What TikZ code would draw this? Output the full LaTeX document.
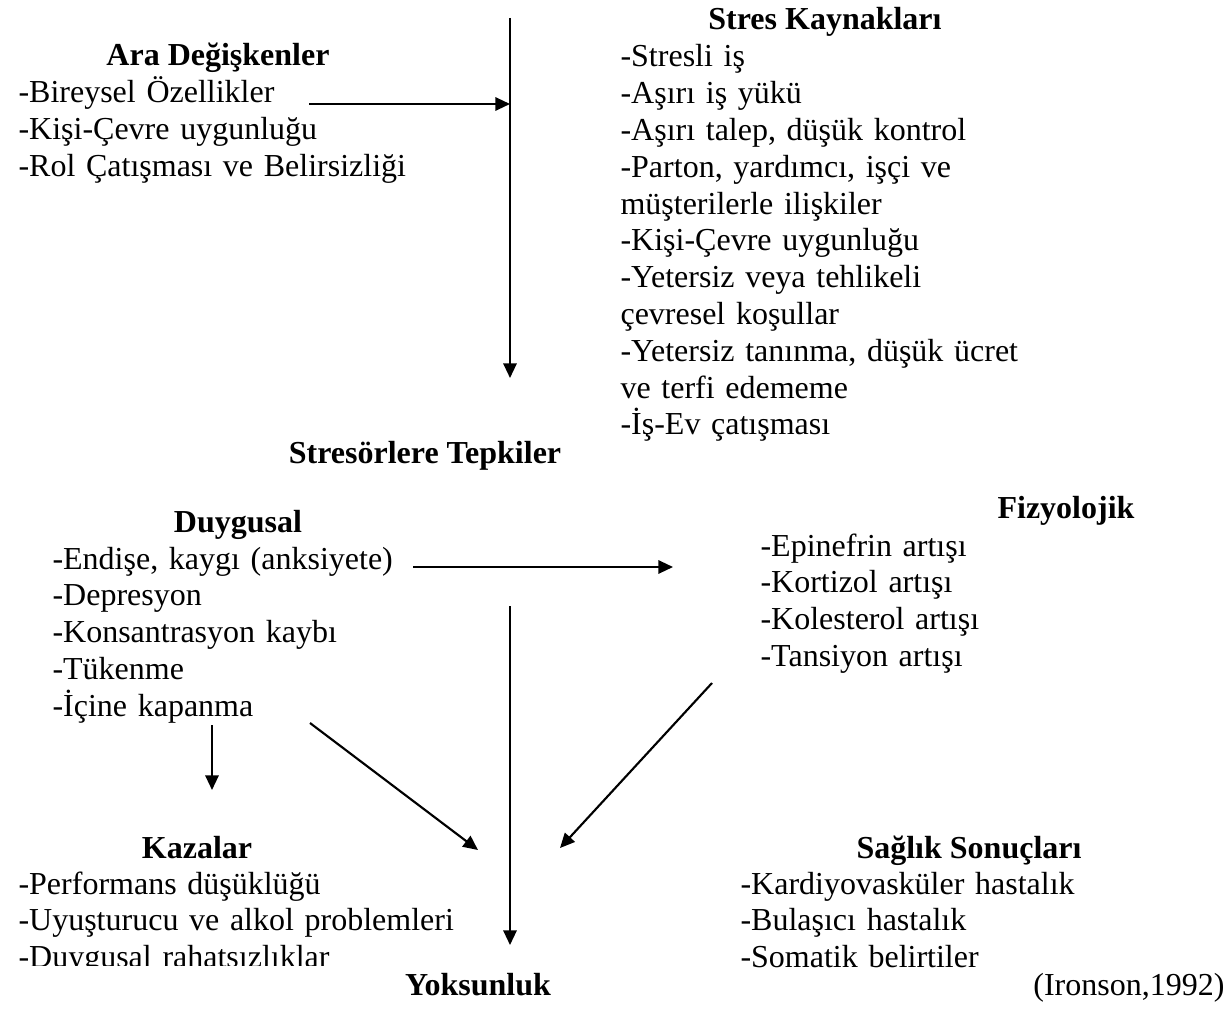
\documentclass[tikz,border=0pt]{standalone}
\usepackage{fontspec}
\setmainfont{Liberation Serif}
\usetikzlibrary{arrows.meta}
\tikzset{
  head/.style={font=\fontsize{12}{13.8}\selectfont\bfseries, inner sep=0pt, anchor=base},
  item/.style={font=\fontsize{12}{13.8}\selectfont, inner sep=0pt, anchor=base west, text width=9cm, align=left},
  link/.style={draw=black, line width=0.8pt, -{Triangle[length=5.5pt,width=5pt]}},
  bar/.style={draw=black, line width=0.8pt},
}

\begin{document}
\begin{tikzpicture}[x=0.375pt, y=-0.375pt]
  \useasboundingbox (0,0) rectangle (1232,1012);

  % top part
  \node[head] (ara) at (218,66) {Ara Değişkenler};
  \node[item] (araL) at (18,103) {-Bireysel Özellikler\\-Kişi-Çevre uygunluğu\\-Rol Çatışması ve Belirsizliği};

  \node[head] (kaynak) at (825,30) {Stres Kaynakları};
  \node[item] (kaynakL) at (620,67) {-Stresli iş\\-Aşırı iş yükü\\-Aşırı talep, düşük kontrol\\-Parton, yardımcı, işçi ve\\müşterilerle ilişkiler\\-Kişi-Çevre uygunluğu\\-Yetersiz veya tehlikeli\\çevresel koşullar\\-Yetersiz tanınma, düşük ücret\\ve terfi edememe\\-İş-Ev çatışması};

  \coordinate (top) at (510,18);
  \coordinate (topEnd) at (510,378);
  \coordinate (araOut) at (309,104);
  \coordinate (araIn) at (510,104);
  \draw[link] (top) -- (topEnd);
  \draw[link] (araOut) -- (araIn);

  \node[head] (tepki) at (425,463) {Stresörlere Tepkiler};

  % reactions
  \node[head] (duyg) at (238,532) {Duygusal};
  \node[item] (duygL) at (52,569) {-Endişe, kaygı (anksiyete)\\-Depresyon\\-Konsantrasyon kaybı\\-Tükenme\\-İçine kapanma};

  \node[head] (fizy) at (1066,518) {Fizyolojik};
  \node[item] (fizyL) at (760,556) {-Epinefrin artışı\\-Kortizol artışı\\-Kolesterol artışı\\-Tansiyon artışı};

  \coordinate (duygOut) at (413,567);
  \coordinate (fizyIn) at (673,567);
  \draw[link] (duygOut) -- (fizyIn);

  \coordinate (midTop) at (510,606);
  \coordinate (midEnd) at (510,945);
  \draw[link] (midTop) -- (midEnd);

  \coordinate (duygDiag) at (310,723);
  \coordinate (duygTip) at (478,850);
  \draw[link] (duygDiag) -- (duygTip);

  \coordinate (fizyDiag) at (712,683);
  \coordinate (fizyTip) at (560,848);
  \draw[link] (fizyDiag) -- (fizyTip);

  \coordinate (kapOut) at (212,725);
  \coordinate (kazaIn) at (212,790);
  \draw[link] (kapOut) -- (kazaIn);

  % outcomes
  \node[head] (kaza) at (197,858) {Kazalar};
  \begin{scope}
    \clip (0,850) rectangle (640,965);
    \node[item] (kazaL) at (18,894) {-Performans düşüklüğü\\-Uyuşturucu ve alkol problemleri\\-Duygusal rahatsızlıklar};
  \end{scope}

  \node[head] (saglik) at (969,858) {Sağlık Sonuçları};
  \node[item] (saglikL) at (740,894) {-Kardiyovasküler hastalık\\-Bulaşıcı hastalık\\-Somatik belirtiler};

  \node[head] (yoks) at (478,995) {Yoksunluk};
  \node[item, text width=, anchor=base east] (kaynakca) at (1225,995) {(Ironson,1992)};
\end{tikzpicture}
\end{document}
